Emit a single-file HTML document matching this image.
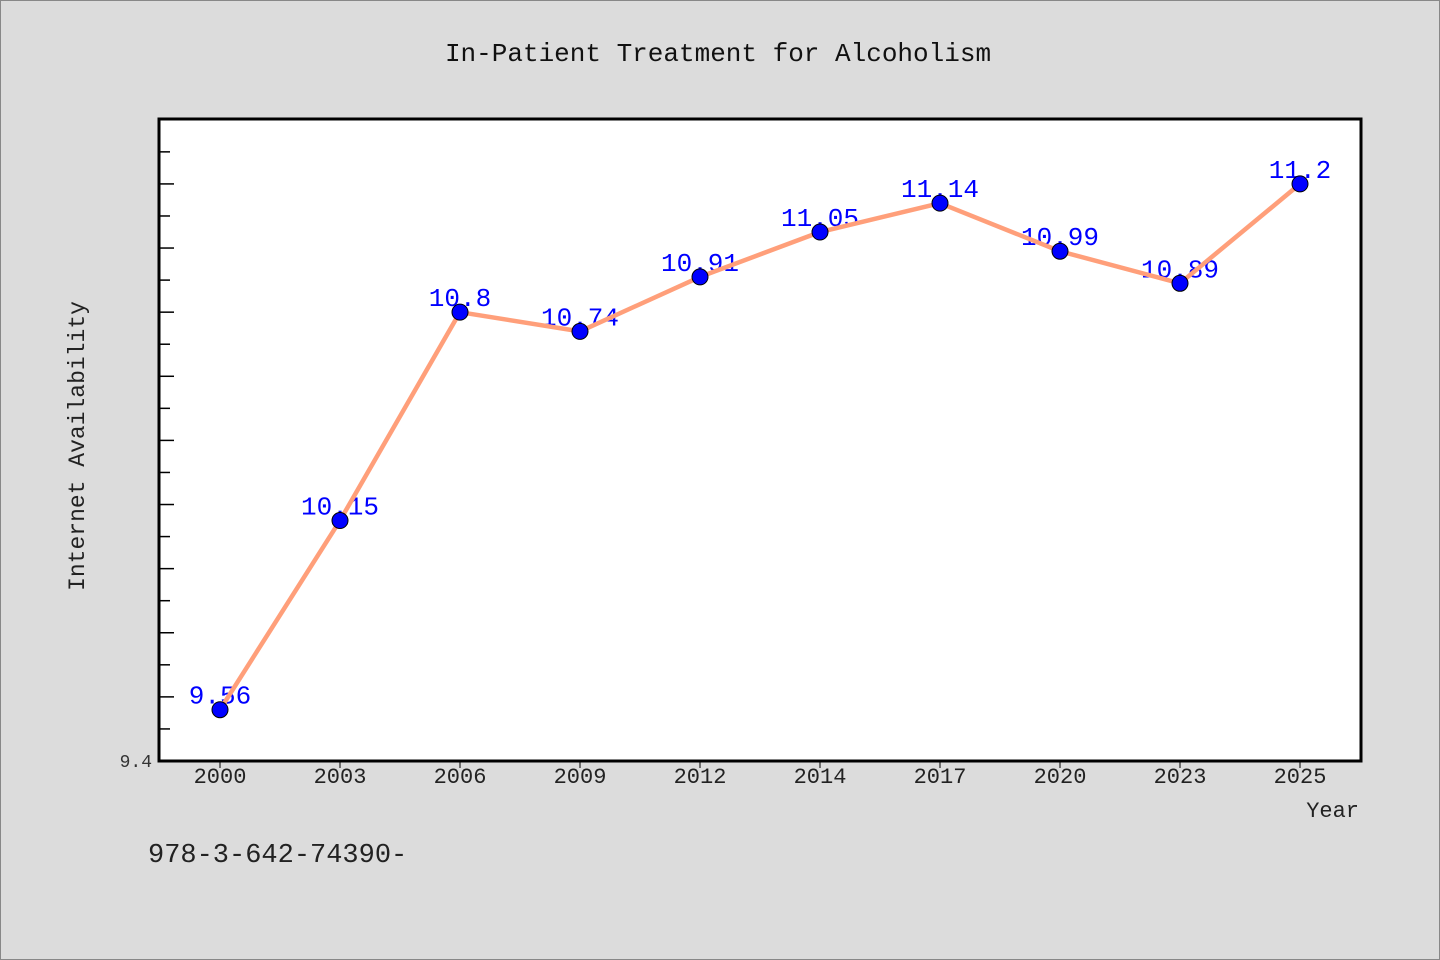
<!DOCTYPE html>
<html><head><meta charset="utf-8"><style>
body{margin:0;background:#dcdcdc;}
svg{display:block;font-family:"Liberation Mono","WenQuanYi Zen Hei",monospace;}
</style></head><body>
<svg width="1440" height="960">
<rect x="0.5" y="0.5" width="1439" height="959" fill="#dcdcdc" stroke="#888"/>
<text x="718" y="61" text-anchor="middle" font-size="26" fill="#111">In-Patient Treatment for Alcoholism</text>
<rect x="159" y="119" width="1202" height="642" fill="#fff" stroke="#000" stroke-width="3"/>
<g id="ticks"></g>
<text x="152" y="767" text-anchor="end" font-size="18" fill="#333">9.4</text>
<text transform="translate(84,446) rotate(-90)" text-anchor="middle" font-size="23" fill="#222">Internet Availability</text>
<text x="1359" y="817" text-anchor="end" font-size="22" fill="#222">Year</text>
<text x="148" y="862" font-size="27" fill="#222">978-3-642-74390-</text>
<g id="xlabels"></g>
<g id="series"></g>
</svg>
<script>
const categories=["2000","2003","2006","2009","2012","2014","2017","2020","2023","2025"];
const values=[9.56,10.15,10.8,10.74,10.91,11.05,11.14,10.99,10.89,11.2];
const yMin=9.4, yPxPerUnit=320.6, yBase=761;
const NS="http://www.w3.org/2000/svg";
function y(v){return yBase-(v-yMin)*yPxPerUnit;}
function x(i){return 220+i*120;}
function mk(t,a,p){const e=document.createElementNS(NS,t);for(const k in a)e.setAttribute(k,a[k]);p.appendChild(e);return e;}
const tg=document.getElementById('ticks');
for(let k=1;k<=19;k++){const v=yMin+k*0.1;const yy=y(v);if(yy<121)break;
 const l=mk('line',{x1:160,x2:k%2===0?174:170,y1:yy,y2:yy,stroke:'#000','stroke-width':1.5},tg);
 
 }
const xg=document.getElementById('xlabels');
categories.forEach((c,i)=>{
 const t=mk('line',{x1:x(i),x2:x(i),y1:762,y2:768,stroke:'#000','stroke-width':1},xg);
 
 
 const tx=mk('text',{x:x(i),y:783,'text-anchor':'middle','font-size':22,fill:'#222'},xg);
 tx.textContent=c;
 
 
});
const sg=document.getElementById('series');
values.forEach((v,i)=>{
 const t=mk('text',{x:x(i),y:y(v)-6,'text-anchor':'middle','font-size':26,fill:'#0000ff'},sg);
 t.textContent=String(v);
 
 
});
const pl=mk('polyline',{points:values.map((v,i)=>x(i)+','+y(v)).join(' '),fill:'none',stroke:'#ff9f7a','stroke-width':4.5,'stroke-linejoin':'round'},sg);


values.forEach((v,i)=>{
 const c=mk('circle',{cx:x(i),cy:y(v),r:8,fill:'#0000ff',stroke:'#000','stroke-width':1},sg);
 
 
});
</script>
</body></html>
